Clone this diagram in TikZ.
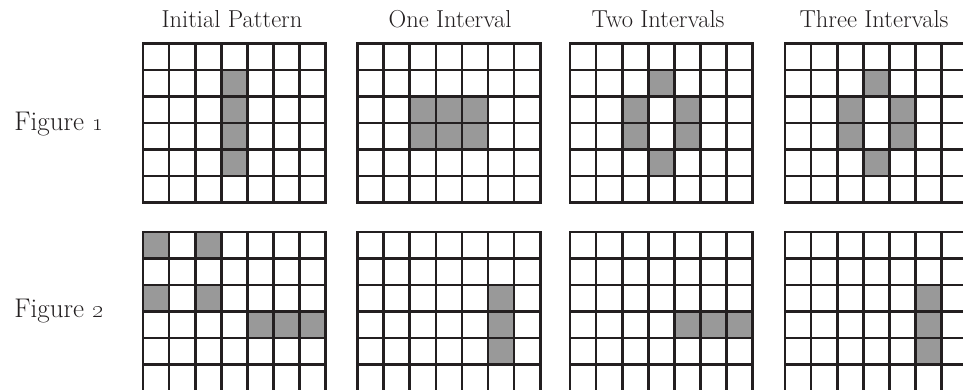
\documentclass[tikz,border=0pt]{standalone}
\definecolor{cellgray}{HTML}{999999}
\definecolor{inkline}{HTML}{231F20}
\newcommand\lifegrid[3]{%
  \begin{scope}[shift={(#1,#2)}]
    \foreach \c/\r in {#3} \fill[cellfill] (\c*26.1,\r*26.5) rectangle ++(26.1,26.5);
    \foreach \i in {0,...,7} \draw[gridline] (\i*26.1,0) -- (\i*26.1,159);
    \foreach \j in {0,...,6} \draw[gridline] (0,\j*26.5) -- (182.7,\j*26.5);
  \end{scope}}
\begin{document}
\begin{tikzpicture}[x=1pt,y=-1pt,
  cellfill/.style={fill=cellgray},
  gridline/.style={draw=inkline,line width=2.6pt,line cap=rect},
  head/.style={anchor=base,inner sep=0pt,text=inkline,font=\fontsize{24.5}{28}\selectfont},
  rowlab/.style={anchor=base,inner sep=0pt,text=inkline,font=\fontsize{27}{32}\selectfont}]
\useasboundingbox (0,0) rectangle (963,389);
\clip (0,0) rectangle (963,389);
\fill[white] (0,0) rectangle (963,389);
% headings
\node[head] (h1) at (232,27) {Initial Pattern};
\node[head] (h2) at (450,27) {One Interval};
\node[head] (h3) at (658,27) {Two Intervals};
\node[head] (h4) at (874,27) {Three Intervals};
% row labels
\node[rowlab] (f1) at (59,130.5) {Figure \oldstylenums{1}};
\node[rowlab] (f2) at (59,317) {Figure \oldstylenums{2}};
% Figure 1
\lifegrid{143}{43.5}{3/1,3/2,3/3,3/4}
\lifegrid{357.5}{43.5}{2/2,3/2,4/2,2/3,3/3,4/3}
\lifegrid{570}{43.5}{3/1,2/2,4/2,2/3,4/3,3/4}
\lifegrid{785}{43.5}{3/1,2/2,4/2,2/3,4/3,3/4}
% Figure 2
\lifegrid{143}{231.8}{0/0,2/0,0/2,2/2,4/3,5/3,6/3}
\lifegrid{357.5}{231.8}{5/2,5/3,5/4}
\lifegrid{570}{231.8}{4/3,5/3,6/3}
\lifegrid{785}{231.8}{5/2,5/3,5/4}
\end{tikzpicture}
\end{document}
